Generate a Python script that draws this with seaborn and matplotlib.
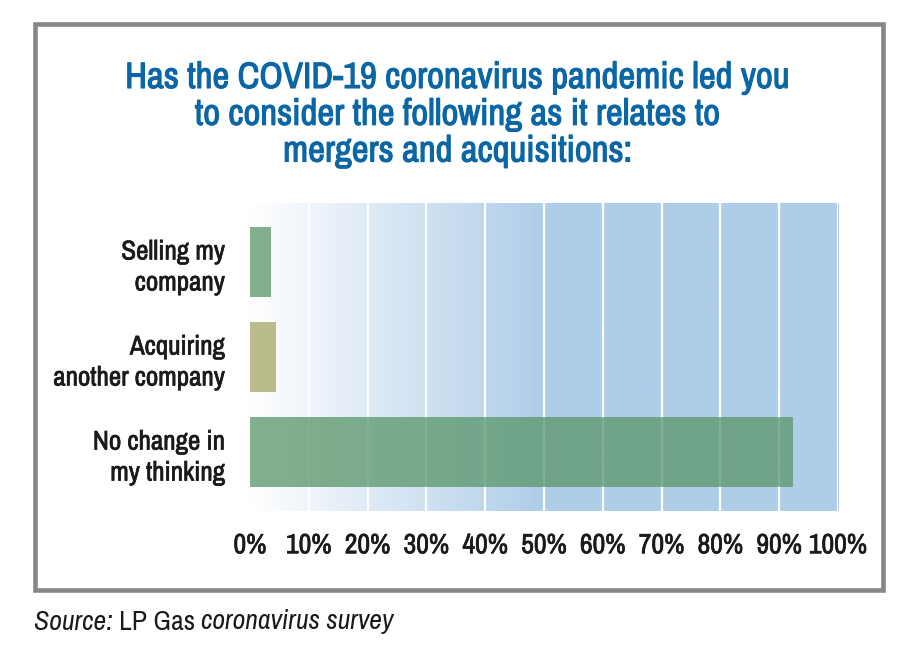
import numpy as np
import matplotlib
matplotlib.use("Agg")
import matplotlib.pyplot as plt
import matplotlib.font_manager as fm
import matplotlib.patheffects as pe
from matplotlib.colors import LinearSegmentedColormap
from matplotlib.patches import Rectangle
import seaborn as sns

# data
answers = ["Selling my\ncompany", "Acquiring\nanother company", "No change in\nmy thinking"]
shares = [3.5, 4.5, 92.3]
bar_colors = ["#5b976b", "#a6a868", "#5b976b"]
x_ticks = [0, 10, 20, 30, 40, 50, 60, 70, 80, 90, 100]
x_ticklabels = [f"{t}%" for t in x_ticks]

title = ("Has the COVID-19 coronavirus pandemic led you\n"
         "to consider the following as it relates to\n"
         "mergers and acquisitions:")

sns.set_style("white")

# pick a narrow font if one is installed
names = sorted({f.name for f in fm.fontManager.ttflist})
narrow = [n for n in names if "Narrow" in n or "Condensed" in n]
if narrow:
    plt.rcParams["font.family"] = [narrow[0], "DejaVu Sans"]
    condensed = True
else:
    plt.rcParams["font.family"] = ["DejaVu Sans"]
    plt.rcParams["font.stretch"] = "condensed"
    condensed = False


def heavy(color, w=0.5):
    # thin outline to even out the stroke weight
    return [pe.withStroke(linewidth=w, foreground=color)]


fig = plt.figure(figsize=(9.16, 6.58), dpi=100)
ax = fig.add_axes([250 / 916, 147 / 658, 588 / 916, 308 / 658])

df_colors = dict(zip(answers, bar_colors))
sns.barplot(x=shares, y=answers, hue=answers, palette=df_colors, legend=False,
            orient="h", width=0.743, alpha=0.76, saturation=1, ax=ax, zorder=2,
            linewidth=0)

# background gradient white -> light blue
cmap = LinearSegmentedColormap.from_list("bg", ["#ffffff", "#afcde9", "#afcde9"])
grad = np.linspace(0, 1, 256).reshape(1, -1)
ax.imshow(grad, cmap=cmap, extent=[0, 100, 2.62, -0.62], aspect="auto", zorder=0)

ax.set_xlim(0, 100)
ax.set_ylim(2.62, -0.62)
ax.set_axisbelow(True)
ax.xaxis.grid(True, color="white", linewidth=1.6)
ax.yaxis.grid(False)
ax.set_xticks(x_ticks)
ax.set_xticklabels(x_ticklabels)
ax.set_xlabel("")
ax.set_ylabel("")
sns.despine(ax=ax, left=True, bottom=True)

ink = "#1a1a1a"
ax.tick_params(axis="x", length=0, pad=16, labelsize=20 if condensed else 15, labelcolor=ink)
ax.tick_params(axis="y", length=0, pad=18, labelsize=19.5 if condensed else 15, labelcolor=ink)
for lab in ax.get_xticklabels() + ax.get_yticklabels():
    lab.set_fontweight("bold")
    lab.set_path_effects(heavy(ink))
for lab in ax.get_yticklabels():
    lab.set_horizontalalignment("right")
    lab.set_multialignment("right")
    lab.set_linespacing(1.3)

tcol = "#0b66a6"
fig.text(458 / 916, 1 - 61 / 658, title, ha="center", va="top",
         fontsize=26.5 if condensed else 20, fontweight="bold", color=tcol,
         linespacing=1.14, path_effects=heavy(tcol, 0.8))

# frame around the chart
fig.patches.append(Rectangle((34.5 / 916, 1 - 590 / 658), 848 / 916, 566 / 658,
                             transform=fig.transFigure, fill=False,
                             edgecolor="#878787", linewidth=3.3))

# source line, mixed italic / upright
fig.canvas.draw()
renderer = fig.canvas.get_renderer()
x = 34 / 916
sfs = 20 if condensed else 15
for piece, style in [("Source: ", "italic"), ("LP Gas ", "normal"),
                     ("coronavirus survey", "italic")]:
    t = fig.text(x, 1 - 622 / 658, piece, fontsize=sfs, style=style,
                 color=ink, va="center", ha="left")
    bb = t.get_window_extent(renderer)
    x += bb.width / fig.bbox.width

fig.savefig("out.png", dpi=100)
